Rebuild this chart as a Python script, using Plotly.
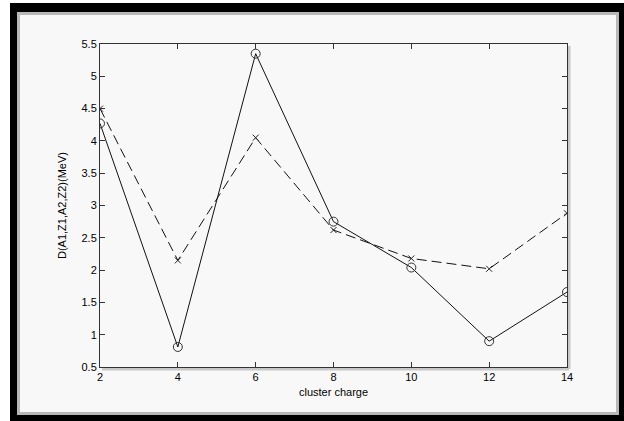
import plotly.graph_objects as go

charge = [2, 4, 6, 8, 10, 12, 14]
d_solid = [4.27, 0.81, 5.35, 2.75, 2.04, 0.90, 1.66]
d_dashed = [4.50, 2.15, 4.05, 2.62, 2.18, 2.02, 2.88]
x_ticks = [2, 4, 6, 8, 10, 12, 14]
y_ticks = [0.5, 1, 1.5, 2, 2.5, 3, 3.5, 4, 4.5, 5, 5.5]
y_ticktext = ["0.5", "1", "1.5", "2", "2.5", "3", "3.5", "4", "4.5", "5", "5.5"]

W, H = 624, 421
L, R, T, B = 100, 57, 44, 54
PW, PH = W - L - R, H - T - B


def px(x):
    return (x - L) / PW


def py(y):
    return 1 - (y - T) / PH


fig = go.Figure()
fig.add_trace(go.Scatter(
    x=charge, y=d_solid, mode="lines+markers",
    line=dict(color="#111111", width=1),
    marker=dict(symbol="circle-open", size=9, color="#333333", line=dict(width=1, color="#333333")),
    showlegend=False))
fig.add_trace(go.Scatter(
    x=charge, y=d_dashed, mode="lines+markers",
    line=dict(color="#111111", width=1, dash="10px,5px"),
    marker=dict(symbol="x-thin", size=6, color="#222222", line=dict(width=1, color="#222222")),
    showlegend=False))

shapes = []
# outer frame
shapes.append(dict(type="rect", xref="paper", yref="paper", x0=px(10), x1=px(624), y0=py(421), y1=py(3),
                   fillcolor="#000000", line=dict(width=0), layer="below"))
shapes.append(dict(type="rect", xref="paper", yref="paper", x0=px(17), x1=px(619), y0=py(415), y1=py(12),
                   fillcolor="#b8b8b8", line=dict(width=0), layer="below"))
shapes.append(dict(type="rect", xref="paper", yref="paper", x0=px(20), x1=px(616), y0=py(412), y1=py(15),
                   fillcolor="#f8f8f8", line=dict(width=0), layer="below"))
# axis shadow on right and bottom
shapes.append(dict(type="line", xref="paper", yref="paper", x0=px(569), x1=px(569), y0=py(369), y1=py(46),
                   line=dict(color="#c8c8c8", width=3), layer="below"))
shapes.append(dict(type="line", xref="paper", yref="paper", x0=px(102), x1=px(569), y0=py(369), y1=py(369),
                   line=dict(color="#c8c8c8", width=3), layer="below"))

font = dict(family="Liberation Sans, Arial, sans-serif", size=11, color="#000000")

fig.update_layout(
    width=W, height=H,
    margin=dict(l=L, r=R, t=T, b=B),
    paper_bgcolor="#ffffff",
    plot_bgcolor="rgba(0,0,0,0)",
    shapes=shapes,
    font=font,
    xaxis=dict(range=[2, 14], tickvals=x_ticks, ticks="inside", ticklen=5, tickcolor="#333333",
               showline=True, linecolor="#333333", linewidth=1, mirror="ticks", showgrid=False,
               zeroline=False, tickfont=font,
               title=dict(text="cluster charge", font=font, standoff=6)),
    yaxis=dict(range=[0.5, 5.5], tickvals=y_ticks, ticktext=y_ticktext, ticks="inside", ticklen=5,
               tickcolor="#333333", showline=True, linecolor="#333333", linewidth=1, mirror="ticks",
               showgrid=False, zeroline=False, tickfont=font,
               title=dict(text="D(A1,Z1,A2,Z2)(MeV)", font=font, standoff=12)),
)

fig.write_html("out.html")
